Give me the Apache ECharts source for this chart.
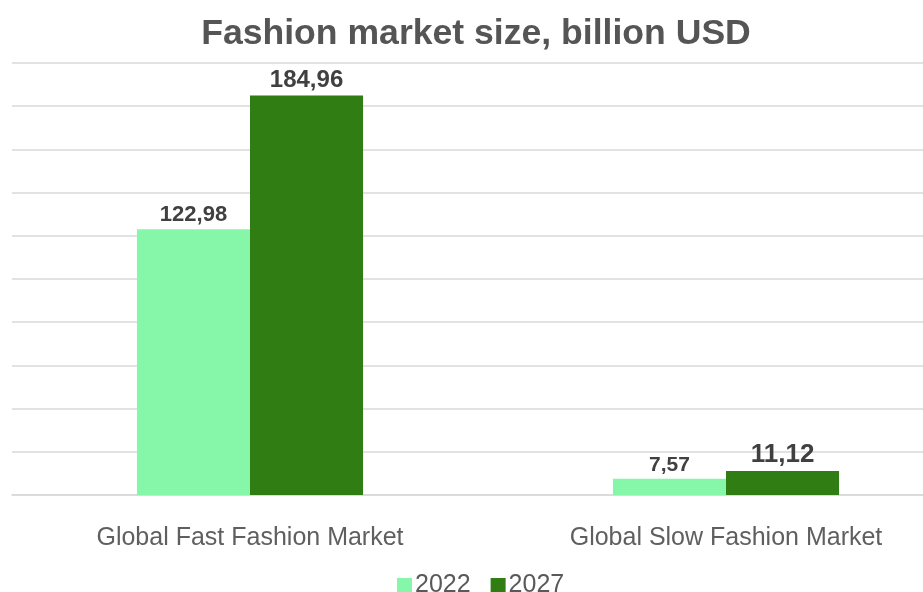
<!DOCTYPE html>
<html>
<head>
<meta charset="utf-8">
<script src="https://cdn.jsdelivr.net/npm/echarts@6/dist/echarts.min.js"></script>
<style>html,body{margin:0;padding:0;background:#fff;overflow:hidden}#c{width:923px;height:592px}</style>
</head>
<body>
<div id="c"></div>
<script>
const categories = ["Global Fast Fashion Market", "Global Slow Fashion Market"];
const seriesNames = ["2022", "2027"];
const values2022 = [122.98, 7.57];
const values2027 = [184.96, 11.12];
const labelSizes2022 = [22, 21];
const labelSizes2027 = [24, 26];

const FONT = 'Liberation Sans, Arial, sans-serif';
const fmt = v => v.toFixed(2).replace('.', ',');
const chart = echarts.init(document.getElementById('c'));
function mk(name, vals, sizes, color) {
  return {
    name: name, type: 'bar', barGap: '0%', barCategoryGap: '52.5%',
    itemStyle: { color: color },
    data: vals.map((v, i) => ({
      value: v,
      label: { show: true, position: 'top', distance: 3, formatter: fmt(v),
        fontSize: sizes[i], fontWeight: 'bold', color: '#404040', fontFamily: FONT }
    }))
  };
}
chart.setOption({
  animation: false,
  title: { text: 'Fashion market size, billion USD', left: 471, textAlign: 'center', top: 11,
    textStyle: { fontSize: 35.6, fontWeight: 'bold', color: '#555555', fontFamily: FONT } },
  legend: { top: 568, left: 392, itemWidth: 15, itemHeight: 15, itemGap: 20,
    textStyle: { fontSize: 25, color: '#595959', fontFamily: FONT, padding: [0,0,0,-2] },
    data: seriesNames.map(n => ({ name: n, icon: 'rect' })) },
  grid: { left: 12, width: 952, top: 63, height: 432, containLabel: false, outerBoundsMode: 'none' },
  xAxis: { type: 'category', data: categories,
    axisLine: { show: true, lineStyle: { color: '#d9d9d9', width: 1.5 } },
    axisTick: { show: false },
    axisLabel: { fontSize: 25, color: '#5f5f5f', margin: 31, fontFamily: FONT } },
  yAxis: { type: 'value', min: 0, max: 200, interval: 20,
    axisLabel: { show: false }, axisLine: { show: false }, axisTick: { show: false },
    splitLine: { lineStyle: { color: '#d9d9d9', width: 1.5 } } },
  series: [
    mk(seriesNames[0], values2022, labelSizes2022, '#86f7a8'),
    mk(seriesNames[1], values2027, labelSizes2027, '#2f7d13')
  ]
});
</script>
</body>
</html>
